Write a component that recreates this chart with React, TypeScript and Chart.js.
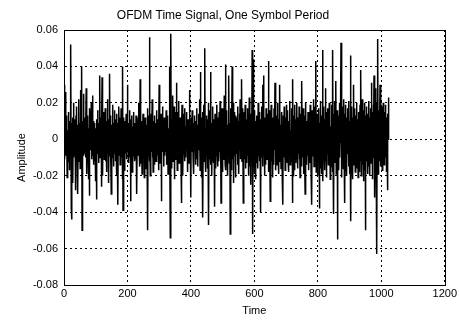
import React, { useEffect, useRef } from "react";
import { Chart, registerables } from "chart.js";

Chart.register(...registerables);

const chartTitle = "OFDM Time Signal, One Symbol Period";
const xAxisTitle = "Time";
const yAxisTitle = "Amplitude";

const xTicks = [0, 200, 400, 600, 800, 1000, 1200];
const yTicks = [-0.08, -0.06, -0.04, -0.02, 0, 0.02, 0.04, 0.06];

// Signal samples (one per time index), in units of 1e-3
const amplitudeMilli = [
  2, 30, 8, -11, 26, 4, -9, 13, -3, 7, -21, 5, 1, -12, 15, -4, 10, -17, 6, -8, 14, -2, 52, -38, -44, 9, -6, 12, -24, 3, 20, -10,
  -4, 11, -7, 6, -28, 2, 13, -5, 18, -9, 1, 8, -30, 7, -3, 22, -12, 0, 9, -16, 4, 27, -6, -2, 40, -50, 6, -13, 10, -5, 25, -9,
  5, -8, 3, 12, -10, 7, 28, -4, -19, 9, -1, 13, -7, 4, -22, 6, -31, 17, -2, 8, -6, 1, 20, -11, 5, -4, 24, -9, 3, -14, 10, -1,
  9, -12, 2, 6, -23, 4, 11, -33, 7, -3, 16, -8, 1, 9, -13, 5, 21, 35, -10, 3, -6, 12, -26, 4, 34, -5, -20, 8, 13, -2, 15, -11,
  3, -7, 17, -12, 6, 0, -18, 10, -4, 22, -8, 2, 11, -24, 6, -2, 36, -9, 5, 13, -6, -30, 8, 1, -10, 19, -3, 7, -15, 9, -1, 16,
  -8, 5, -12, 11, 2, -20, 7, 14, -4, 9, -36, 3, -9, 18, 1, -6, 12, -14, 6, -3, 17, -10, 4, 8, -22, 40, -39, 8, -2, 12, -17, 6,
  -3, 10, -8, 2, 14, -11, 5, -1, 30, -7, 4, -13, 9, 0, -10, 16, -5, 7, -34, 3, 11, -6, 13, -18, 2, 7, -9, 15, -3, 5, -12, 9,
  -1, 6, -11, 13, -6, 3, -30, 8, 1, -9, 12, -4, 20, -7, 5, -15, 33, -2, 9, -13, 4, 10, -19, 3, -5, 14, -8, 1, 11, -21, 7, -2,
  12, -9, 4, -16, 8, 2, -11, 17, -50, 10, -5, 13, -3, 56, -12, 5, -20, 8, -1, 14, -7, 3, 22, -10, 6, -18, 2, 10, -4, 13, -14, 5,
  -2, 9, -12, 3, 16, -6, 5, -9, 11, 1, -17, 7, 30, -5, 3, -13, 8, -2, 14, -34, 4, 10, -7, 18, -3, 6, -15, 2, 12, -9, 7, 0,
  10, -7, 16, -14, 3, 8, -4, 13, -19, 6, 1, -10, 40, -8, 5, -54, 20, 58, -9, 4, -16, 11, -2, 24, -12, 7, -5, 18, -22, 3, 15, -8,
  6, -11, 31, -3, 9, -17, 2, 15, -7, 4, 21, -13, 8, -2, 12, -10, 3, -16, -35, 6, 19, -5, 10, -20, 1, 14, -8, 5, -12, 17, -3, 7,
  -10, 4, 15, -6, 8, -18, 2, 11, -4, 7, -13, 27, 1, -9, 6, -15, -32, 12, 3, -7, 16, -1, 6, -11, 9, -19, 2, 13, -5, 7, -14, 1,
  10, -4, 17, -11, 5, 1, -15, 8, -6, 14, -2, 22, 7, -17, 37, -9, 3, 12, -21, 5, -1, 15, -43, 9, -7, 19, -12, 4, 50, -10, 6, -18,
  2, 13, -8, 5, -16, 11, -3, 20, -47, 7, 1, -11, 16, -6, 37, -14, 4, 9, -20, 7, -2, 18, -10, 5, -13, 11, 0, -37, 14, -5, 8, -16,
  6, -9, 19, -4, 12, -15, 2, 8, -12, 15, -7, 1, 21, -10, 5, -35, 10, -2, 17, -18, 7, 3, -11, 14, -8, 24, -5, 9, -14, 41, -17, 5,
  -3, 16, -10, 8, -20, 4, 12, -6, 35, -13, 2, 9, -52, 17, -8, 5, -17, 11, 40, -11, 3, 20, -24, 7, -4, 15, -9, 1, 13, -21, 8, -1,
  12, -8, 5, -14, 18, -3, 10, -19, 2, 14, -5, 22, -11, 6, -1, 9, 33, -12, 4, -8, 17, -35, 7, -2, 15, -11, 5, 19, -16, 3, -6, 11,
  -13, 7, 17, -9, 2, -20, 12, -4, 23, -15, 8, -1, 14, -25, 6, 11, -7, 49, -16, -52, 9, 44, -11, 5, -19, 16, -3, 10, -22, 7, 1, -13,
  13, -6, 4, -16, 20, -9, 7, -2, 15, -12, 4, 9, -40, 11, -4, 18, -10, 2, 30, -15, 6, 35, -7, 3, -20, 12, -1, 9, -14, 17, -5, 7,
  -11, 14, -4, 8, 43, -18, 5, -8, 16, -6, -34, 10, 2, 19, -12, 5, -2, 12, -21, 8, 0, -14, 17, -6, 4, 31, -10, 7, -17, 13, -1, 9,
  -14, 6, 20, -8, 3, -19, 11, -4, 30, -12, 8, 1, -16, 15, -3, 9, -22, 5, -36, 13, 4, -10, 18, -6, 9, -17, 2, 12, -8, 19, -13, 4,
  -2, 16, -11, 7, -18, 10, 3, -7, 21, -14, 5, 0, -12, 17, -4, 8, -35, 33, -20, 6, 13, -8, 4, -17, 19, -2, 8, -13, 11, -5, 20, -9,
  5, -16, 12, 1, -8, 18, -11, 6, -21, 9, -3, 14, 7, -15, 32, -6, 4, -10, 17, -19, 8, -1, 13, -12, -30, 5, 20, -7, 3, -14, 10, 2,
  -9, 15, -4, 8, -17, 11, 2, -13, 19, -6, 5, -21, 9, -36, 16, -2, 12, -9, 7, 22, -15, 4, -8, 18, -11, 3, 43, -18, 9, -4, 14, -20,
  6, 10, -13, 17, -5, -38, 9, 3, -16, 21, -7, 8, -19, 13, 1, 49, -23, 5, -10, 18, -3, 11, -17, 7, 28, -12, 2, -21, 15, -8, 9, -1,
  17, -14, 4, -9, 20, -6, 12, -22, 7, 1, -15, 19, -3, 10, -18, 49, -11, 8, -41, 14, -2, 21, -13, 5, -8, 32, -19, 9, -4, 16, -55, 11,
  -7, 13, -17, 3, 20, -10, 6, -2, 15, 53, -21, 8, -12, 18, -5, 11, -16, 4, 22, -9, 2, -35, 14, -6, 19, -13, 7, -20, 12, -3, 17, -8,
  5, -15, 21, -7, 10, -19, 2, 46, -45, 14, -4, 18, -11, 6, -22, 12, -1, 30, -14, 8, -6, 17, -18, 3, 13, -9, 20, -16, 6, -2, 11, -21,
  15, -6, 9, -18, 4, 19, -12, 7, 38, -20, 5, -10, 22, -14, 2, 16, -23, 8, -5, 20, -17, 11, -50, 13, -3, 18, -12, 6, -19, 14, -4, 9,
  -15, 21, -8, 5, -20, 12, -2, 17, -13, 31, -7, 3, -22, 15, -10, 19, -4, 35, -17, 8, -32, 11, -2, 28, -14, 6, -63, 20, -11, 55, -19, 13,
  -7, 16, -12, 5, 30, -15, 2, -9, 18, -4, 11, -17, 7, -13, 20, -1, 9, -14, 15, -6, 3, 19, -10, 12, -18, 8, -2, 14, -28, 5, 0, 23,
];

const FONT = "'Liberation Sans', Arial, Helvetica, sans-serif";

const boxPlugin = {
  id: "matlabBox",
  afterDraw(chart: any) {
    const { ctx, chartArea } = chart;
    ctx.save();
    ctx.strokeStyle = "#000";
    ctx.lineWidth = 1;
    ctx.setLineDash([]);
    ctx.strokeRect(
      Math.round(chartArea.left) + 0.5,
      Math.round(chartArea.top) + 0.5,
      Math.round(chartArea.right - chartArea.left),
      Math.round(chartArea.bottom - chartArea.top)
    );
    ctx.restore();
  },
};

export default function App() {
  const canvasRef = useRef<HTMLCanvasElement | null>(null);

  useEffect(() => {
    const canvas = canvasRef.current;
    if (!canvas) return;
    const points = amplitudeMilli.map((v, i) => ({ x: i, y: v / 1000 }));
    const chart = new Chart(canvas, {
      type: "line",
      data: {
        datasets: [
          {
            data: points,
            borderColor: "#000",
            borderWidth: 1.5,
            pointRadius: 0,
            tension: 0,
            fill: false,
          },
        ],
      },
      options: {
        animation: false,
        responsive: false,
        parsing: false as any,
        normalized: true,
        layout: { padding: { left: 0, right: 13, top: 0, bottom: 0 } },
        plugins: {
          legend: { display: false },
          tooltip: { enabled: false },
          title: {
            display: true,
            text: chartTitle,
            color: "#000",
            font: { family: FONT, size: 12, weight: "normal" as any },
            padding: { top: 8, bottom: 7.6 },
          },
        },
        scales: {
          x: {
            type: "linear",
            min: 0,
            max: 1200,
            afterFit: (s: any) => {
              s.height = 35;
            },
            afterBuildTicks: (s: any) => {
              s.ticks = xTicks.map((v) => ({ value: v }));
            },
            ticks: {
              color: "#000",
              font: { family: FONT, size: 11 },
              padding: 2,
              maxRotation: 0,
              autoSkip: false,
              callback: (v: any) => String(v),
            },
            grid: {
              color: "#000",
              lineWidth: 1,
              drawTicks: false,
            },
            border: { display: true, color: "#000", dash: [2, 3] },
            title: {
              display: true,
              text: xAxisTitle,
              color: "#000",
              font: { family: FONT, size: 11 },
              padding: { top: 0, bottom: 2 },
            },
          },
          y: {
            type: "linear",
            min: -0.08,
            max: 0.06,
            afterFit: (s: any) => {
              s.width = 64;
            },
            afterBuildTicks: (s: any) => {
              s.ticks = yTicks.map((v) => ({ value: v }));
            },
            ticks: {
              color: "#000",
              font: { family: FONT, size: 11 },
              padding: 6,
              autoSkip: false,
              callback: (v: any) => {
                const r = Math.round(Number(v) * 100) / 100;
                return r === 0 ? "0" : r.toFixed(2);
              },
            },
            grid: {
              color: "#000",
              lineWidth: 1,
              drawTicks: false,
            },
            border: { display: true, color: "#000", dash: [2, 3] },
            title: {
              display: true,
              text: yAxisTitle,
              color: "#000",
              font: { family: FONT, size: 11 },
              padding: { top: 15, bottom: 0 },
            },
          },
        },
      },
      plugins: [boxPlugin],
    });
    return () => chart.destroy();
  }, []);

  return (
    <div style={{ position: "absolute", left: 0, top: 0, width: 459, height: 320, background: "#fff" }}>
      <canvas ref={canvasRef} width={459} height={320} />
    </div>
  );
}
